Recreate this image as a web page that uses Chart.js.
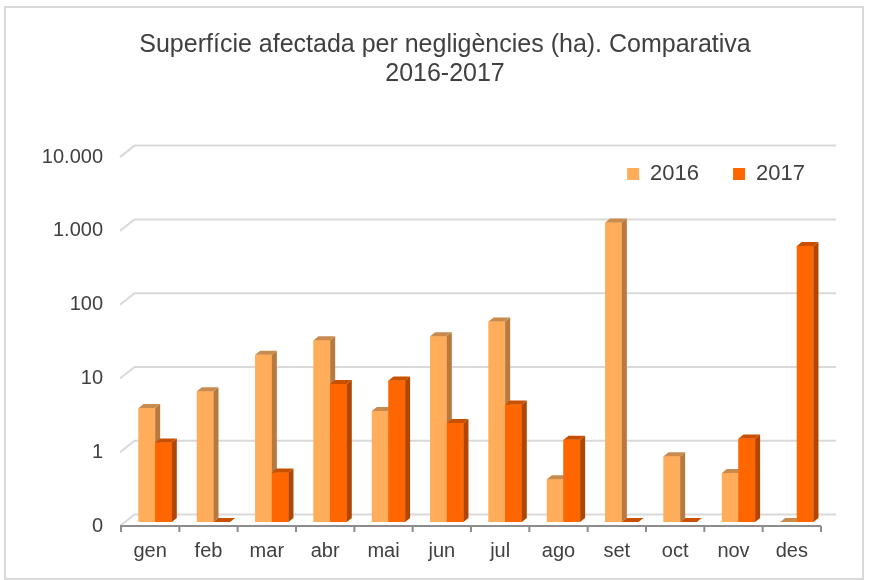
<!DOCTYPE html>
<html>
<head>
<meta charset="utf-8">
<script src="https://cdn.jsdelivr.net/npm/chart.js@4.4.1/dist/chart.umd.min.js"></script>
<style>
    html, body { margin: 0; padding: 0; background: #fff; }
    #grafico { display: block; }
    #marco { position: absolute; left: 4px; top: 6px; width: 856px; height: 570px; border: 2px solid #d9d9d9; pointer-events: none; }
</style>
</head>
<body>
<canvas id="grafico" width="870" height="580"></canvas>
<div id="marco"></div>
<script>
// Datos (ha)
var meses = ['gen', 'feb', 'mar', 'abr', 'mai', 'jun', 'jul', 'ago', 'set', 'oct', 'nov', 'des'];
var valores2016 = [3.5, 5.9, 18.5, 29, 3.2, 33, 52, 0.38, 1150, 0.78, 0.46, 0];
var valores2017 = [1.2, 0, 0.47, 7.4, 8.3, 2.2, 3.9, 1.3, 0, 0, 1.35, 550];
var marcasY = [0.1, 1, 10, 100, 1000, 10000];

var coloresFrente = ['#FFAD5B', '#FF6600'];
var coloresLado = ['#B7793E', '#B04600'];
var coloresTecho = ['#C98A4E', '#C85000'];

// Profundidad del efecto 3D
var PROF_X = 5, PROF_Y = 4;

function formatear(v) {
    return String(v).replace(/\B(?=(\d{3})+(?!\d))/g, '.');
}

// Recoloca la leyenda dentro del area y evita recortar las etiquetas del eje Y
var ajustes = {
    id: 'ajustes',
    afterLayout: function(chart) {
        chart.scales.y.left = 0;
        var leyenda = chart.legend;
        var alto = leyenda.bottom - leyenda.top;
        leyenda.top = 129;
        leyenda.bottom = 129 + alto;
        leyenda.left += 13;
        leyenda.right += 13;
    }
};

// Dibuja la rejilla con perspectiva y el eje frontal
var rejilla3D = {
    id: 'rejilla3D',
    beforeDatasetsDraw: function(chart) {
        var ctx = chart.ctx;
        var area = chart.chartArea;
        var escalaY = chart.scales.y;
        var frenteX = area.left - 6, fondoX = area.left + 8.5, finX = area.right + 10;
        ctx.save();
        ctx.strokeStyle = '#d9d9d9';
        ctx.lineWidth = 2;
        marcasY.forEach(function(v) {
            var py = escalaY.getPixelForValue(v);
            ctx.beginPath();
            ctx.moveTo(frenteX, py + 4);
            ctx.lineTo(fondoX, py - 7.5);
            ctx.lineTo(finX, py - 7.5);
            ctx.stroke();
        });
        var base = escalaY.getPixelForValue(0.1) + 4;
        var ancho = (area.right - area.left) / meses.length;
        ctx.strokeStyle = '#8c8c8c';
        ctx.beginPath();
        ctx.moveTo(frenteX, base);
        ctx.lineTo(area.right - 5, base);
        for (var i = 0; i <= meses.length; i++) {
            var px = area.left + i * ancho - 5;
            ctx.moveTo(px, base);
            ctx.lineTo(px, base + 6);
        }
        ctx.stroke();
        ctx.restore();
    }
};

// Caras lateral y superior de cada barra
var barras3D = {
    id: 'barras3D',
    afterDatasetsDraw: function(chart) {
        var ctx = chart.ctx;
        ctx.save();
        chart.data.datasets.forEach(function(ds, i) {
            var meta = chart.getDatasetMeta(i);
            meta.data.forEach(function(bar) {
                bar.draw(ctx);
                var izq = bar.x - bar.width / 2;
                var der = bar.x + bar.width / 2;
                ctx.fillStyle = coloresLado[i];
                ctx.beginPath();
                ctx.moveTo(der, bar.y);
                ctx.lineTo(der + PROF_X, bar.y - PROF_Y);
                ctx.lineTo(der + PROF_X, bar.base - PROF_Y);
                ctx.lineTo(der, bar.base);
                ctx.closePath();
                ctx.fill();
                ctx.fillStyle = coloresTecho[i];
                ctx.beginPath();
                ctx.moveTo(izq, bar.y);
                ctx.lineTo(izq + PROF_X, bar.y - PROF_Y);
                ctx.lineTo(der + PROF_X, bar.y - PROF_Y);
                ctx.lineTo(der, bar.y);
                ctx.closePath();
                ctx.fill();
            });
        });
        ctx.restore();
    }
};

Chart.defaults.font.family = '"Liberation Sans", Arial, sans-serif';
Chart.defaults.color = '#404040';

var ctx = document.getElementById('grafico').getContext('2d');
var grafico = new Chart(ctx, {
    type: 'bar',
    data: {
        labels: meses,
        datasets: [
            {
                label: '2016',
                data: valores2016,
                backgroundColor: coloresFrente[0],
                categoryPercentage: 0.57,
                barPercentage: 1
            },
            {
                label: '2017',
                data: valores2017,
                backgroundColor: coloresFrente[1],
                categoryPercentage: 0.57,
                barPercentage: 1
            }
        ]
    },
    options: {
        responsive: false,
        animation: false,
        layout: { padding: { left: 64, right: 44, top: 0, bottom: 0 } },
        plugins: {
            title: {
                display: true,
                text: ['Superfície afectada per negligències (ha). Comparativa', '2016-2017'],
                font: { size: 25, weight: 'normal', lineHeight: 1.16 },
                color: '#404040',
                padding: { top: 30.5, bottom: -14.5 }
            },
            legend: {
                position: 'top',
                align: 'end',
                labels: {
                    boxWidth: 12,
                    boxHeight: 12,
                    padding: 34,
                    font: { size: 22 },
                    color: '#404040'
                }
            },
            tooltip: { enabled: false }
        },
        scales: {
            x: {
                grid: { display: false, drawTicks: false },
                border: { display: false },
                ticks: { padding: 17, labelOffset: -5, maxRotation: 0, font: { size: 20 }, color: '#404040' }
            },
            y: {
                type: 'logarithmic',
                min: 0.1,
                max: 15050,
                afterBuildTicks: function(scale) {
                    scale.ticks = marcasY.map(function(v) { return { value: v }; });
                },
                afterFit: function(scale) {
                    scale.width = 62;
                },
                grid: { display: false, drawTicks: false },
                border: { display: false },
                ticks: {
                    padding: 23,
                    labelOffset: 4,
                    font: { size: 20 },
                    color: '#404040',
                    callback: function(v) {
                        return v < 1 ? '0' : formatear(v);
                    }
                }
            }
        }
    },
    plugins: [ajustes, rejilla3D, barras3D]
});
</script>
</body>
</html>
